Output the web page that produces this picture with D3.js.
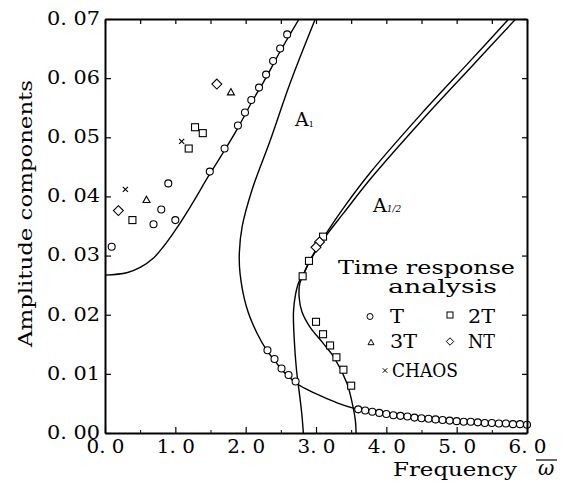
<!DOCTYPE html>
<html><head><meta charset="utf-8">
<script src="https://cdn.jsdelivr.net/npm/d3@7"></script>
<style>
body{margin:0;background:#fff}
svg{display:block}
text{font-family:"DejaVu Serif","Liberation Serif",serif;fill:#000}
</style>
</head><body>
<svg id="c" width="567" height="483"></svg>
<script>
// ---- axis ticks ----
const xTickValues = [0, 1, 2, 3, 4, 5, 6];
const xTickLabels = ["0. 0", "1. 0", "2. 0", "3. 0", "4. 0", "5. 0", "6. 0"];
const xMinorValues = [0.5, 1.5, 2.5, 3.5, 4.5, 5.5];
const yTickValues = [0, 0.01, 0.02, 0.03, 0.04, 0.05, 0.06, 0.07];
const yTickLabels = ["0. 00", "0. 01", "0. 02", "0. 03", "0. 04", "0. 05", "0. 06", "0. 07"];

// ---- analytic curves (frequency, amplitude) ----
const upperW = [0, 0.31, 0.50, 0.69, 0.83, 1.0, 1.2, 1.49, 1.70, 1.89, 2.08, 2.29, 2.49, 2.76];
const upperA = [0.0267, 0.0271, 0.0280, 0.0296, 0.0315, 0.0343, 0.0380, 0.0438, 0.0478, 0.0516, 0.0558, 0.0601, 0.0645, 0.0700];

const a1W = [2.99, 2.63, 2.35, 2.09, 1.95, 1.91, 1.92, 2.01, 2.16, 2.31, 2.41, 2.51, 2.61, 2.71, 2.85, 3.10, 3.30, 3.53, 3.80, 4.20, 4.60, 5.00, 5.50, 6.00];
const a1A = [0.0700, 0.0591, 0.0495, 0.0411, 0.0349, 0.0305, 0.0270, 0.0214, 0.0169, 0.0138, 0.0123, 0.0107, 0.0096, 0.0085, 0.0075, 0.0061, 0.0051, 0.0042, 0.0035, 0.0028, 0.0023, 0.0019, 0.0016, 0.0013];

const halfLeftW = [2.82, 2.80, 2.77, 2.72, 2.69, 2.68, 2.71, 2.76, 2.81, 2.90, 3.00, 3.12, 3.40, 3.77, 4.50, 5.20, 5.74];
const halfLeftA = [0.0000, 0.0030, 0.0061, 0.0110, 0.0160, 0.0205, 0.0235, 0.0256, 0.0265, 0.0289, 0.0310, 0.0333, 0.0382, 0.0440, 0.0540, 0.0630, 0.0700];

const halfRightW = [3.57, 3.56, 3.53, 3.44, 3.25, 3.10, 2.91, 2.80, 2.76, 2.77, 2.81, 2.90, 3.00, 3.12, 3.40, 3.77, 4.50, 5.20, 5.84];
const halfRightA = [0.0000, 0.0021, 0.0042, 0.0084, 0.0129, 0.0152, 0.0180, 0.0205, 0.0230, 0.0253, 0.0265, 0.0288, 0.0308, 0.0330, 0.0373, 0.0429, 0.0528, 0.0618, 0.0700];

// ---- time response analysis points ----
const tW = [0.095, 0.69, 0.80, 0.90, 1.00, 1.49, 1.70, 1.89, 1.99, 2.08, 2.19, 2.29, 2.39, 2.49, 2.59,
            2.31, 2.41, 2.51, 2.61, 2.71,
            3.6, 3.7, 3.8, 3.9, 4.0, 4.1, 4.2, 4.3, 4.4, 4.5, 4.6, 4.7, 4.8, 4.9, 5.0, 5.1, 5.2, 5.3, 5.4, 5.5, 5.6, 5.7, 5.8, 5.9, 6.0];
const tA = [0.0315, 0.0353, 0.0378, 0.0422, 0.0360, 0.0442, 0.0481, 0.0520, 0.0542, 0.0563, 0.0584, 0.0606, 0.0629, 0.0650, 0.0674,
            0.0140, 0.0125, 0.0109, 0.0098, 0.0087,
            0.0040, 0.0038, 0.0036, 0.0034, 0.0032, 0.0030, 0.0029, 0.0028, 0.0026, 0.0025, 0.0024, 0.0023, 0.0022, 0.0021, 0.0020, 0.0019, 0.0019, 0.0018, 0.0017, 0.0017, 0.0016, 0.0016, 0.0015, 0.0015, 0.0014];
const t2W = [0.39, 1.19, 1.28, 1.39, 2.81, 2.90, 3.10, 3.00, 3.10, 3.20, 3.29, 3.39, 3.50];
const t2A = [0.0360, 0.0481, 0.0517, 0.0507, 0.0265, 0.0291, 0.0332, 0.0188, 0.0167, 0.0148, 0.0128, 0.0107, 0.0080];
const t3W = [0.59, 1.79];
const t3A = [0.0395, 0.0577];
const ntW = [0.19, 1.59, 3.05, 3.00];
const ntA = [0.0376, 0.0590, 0.0323, 0.0314];
const chaosW = [0.29, 1.09];
const chaosA = [0.0412, 0.0493];

const legendItems = [
  {shape: "circle", label: "T"}, {shape: "square", label: "2T"},
  {shape: "triangle", label: "3T"}, {shape: "diamond", label: "NT"},
  {shape: "cross", label: "CHAOS"}
];

// ---- drawing ----
const FONT = '"DejaVu Serif","Liberation Serif",serif';
const svg = d3.select("#c");
const L = 105, R = 527, T = 19, B = 433;
const x = d3.scaleLinear().domain([0, 6]).range([L, R]);
const y = d3.scaleLinear().domain([0, 0.07]).range([B, T]);

svg.append("defs").append("clipPath").attr("id", "plot")
  .append("rect").attr("x", L).attr("y", T).attr("width", R - L).attr("height", B - T);

const zip = (ws, as) => ws.map((w, i) => [w, as[i]]);
const line = d3.line().x(d => x(d[0])).y(d => y(d[1])).curve(d3.curveCatmullRom.alpha(0.5));

const curves = svg.append("g").attr("clip-path", "url(#plot)")
  .attr("fill", "none").attr("stroke", "#000").attr("stroke-width", 1.4);
[[upperW, upperA], [a1W, a1A], [halfLeftW, halfLeftA], [halfRightW, halfRightA]].forEach(([w, a]) => {
  curves.append("path").attr("d", line(zip(w, a)));
});

// marker symbols
function drawMarker(g, shape, cx, cy, s) {
  if (shape === "circle") {
    g.append("circle").attr("cx", cx).attr("cy", cy).attr("r", s / 2);
  } else if (shape === "square") {
    g.append("rect").attr("x", cx - s / 2).attr("y", cy - s / 2).attr("width", s).attr("height", s);
  } else if (shape === "triangle") {
    const h = s * 0.9;
    g.append("path").attr("d", `M${cx},${cy - h / 2}L${cx + s / 2},${cy + h / 2}L${cx - s / 2},${cy + h / 2}Z`);
  } else if (shape === "diamond") {
    const r = s * 0.62;
    g.append("path").attr("d", `M${cx},${cy - r}L${cx + r},${cy}L${cx},${cy + r}L${cx - r},${cy}Z`);
  } else if (shape === "cross") {
    const r = s * 0.32;
    g.append("path").attr("d", `M${cx - r},${cy - r}L${cx + r},${cy + r}M${cx - r},${cy + r}L${cx + r},${cy - r}`);
  }
}
const marks = svg.append("g").attr("fill", "#fff").attr("stroke", "#000").attr("stroke-width", 1.1);
[["circle", tW, tA, 7], ["square", t2W, t2A, 7], ["triangle", t3W, t3A, 7],
 ["diamond", ntW, ntA, 8], ["cross", chaosW, chaosA, 8]].forEach(([shape, ws, as, s]) => {
  ws.forEach((w, i) => drawMarker(marks, shape, x(w), y(as[i]), s));
});

// axes
const axisStyle = g => {
  g.select(".domain").attr("stroke-width", 2);
  g.selectAll(".tick line").attr("stroke-width", 1.2);
  g.selectAll("text").attr("font-family", FONT).attr("font-size", 19);
};
svg.append("g").attr("transform", `translate(0,${B})`)
  .call(d3.axisBottom(x).tickValues(xTickValues).tickSizeInner(-6).tickSizeOuter(0).tickPadding(7)
    .tickFormat((d, i) => xTickLabels[i]))
  .call(axisStyle)
  .call(g => g.selectAll("text").attr("textLength", 38).attr("lengthAdjust", "spacingAndGlyphs"));
svg.append("g").attr("transform", `translate(0,${B})`)
  .call(d3.axisBottom(x).tickValues(xMinorValues).tickSizeInner(-3).tickSizeOuter(0).tickFormat(""))
  .call(g => g.select(".domain").remove());
svg.append("g").attr("transform", `translate(${L},0)`)
  .call(d3.axisLeft(y).tickValues(yTickValues).tickSizeInner(-6).tickSizeOuter(0).tickPadding(5)
    .tickFormat((d, i) => yTickLabels[i]))
  .call(axisStyle)
  .call(g => g.selectAll("text").attr("textLength", 53).attr("lengthAdjust", "spacingAndGlyphs").attr("dy", "0.28em"));
svg.append("g").attr("transform", `translate(0,${T})`)
  .call(d3.axisTop(x).tickValues(xTickValues.concat(xMinorValues)).tickSizeInner(-5).tickSizeOuter(0).tickFormat(""))
  .call(axisStyle);
svg.append("g").attr("transform", `translate(${R},0)`)
  .call(d3.axisRight(y).tickValues(yTickValues).tickSizeInner(-5).tickSizeOuter(0).tickFormat(""))
  .call(axisStyle);

// axis titles
svg.append("text").attr("transform", "translate(32,213.5) rotate(-90)")
  .attr("text-anchor", "middle").attr("font-size", 19)
  .attr("textLength", 267).attr("lengthAdjust", "spacingAndGlyphs").text("Amplitude components");
svg.append("text").attr("x", 393).attr("y", 476).attr("font-size", 19)
  .attr("textLength", 124).attr("lengthAdjust", "spacingAndGlyphs").text("Frequency");
svg.append("text").attr("x", 538).attr("y", 475).attr("font-size", 20).attr("font-style", "italic").text("ω");
svg.append("line").attr("x1", 536).attr("x2", 557).attr("y1", 460).attr("y2", 460)
  .attr("stroke", "#000").attr("stroke-width", 1.2);

// curve labels
const lab1 = svg.append("text").attr("x", x(2.70)).attr("y", y(0.0519)).attr("font-size", 19);
lab1.append("tspan").text("A");
lab1.append("tspan").attr("font-size", 8).attr("dy", 1).text("1");
const lab2 = svg.append("text").attr("x", x(3.81)).attr("y", y(0.0373)).attr("font-size", 19);
lab2.append("tspan").text("A");
lab2.append("tspan").attr("font-size", 9).attr("font-style", "italic").attr("dy", 0).text("1/2");

// legend
svg.append("text").attr("x", 338).attr("y", 274).attr("font-size", 18)
  .attr("textLength", 177).attr("lengthAdjust", "spacingAndGlyphs").text("Time response");
svg.append("text").attr("x", 388).attr("y", 293).attr("font-size", 18)
  .attr("textLength", 109).attr("lengthAdjust", "spacingAndGlyphs").text("analysis");
const legPos = [
  {mx: 370, my: 316.5, tx: 390, ty: 323, tl: 14},
  {mx: 450, my: 315, tx: 468, ty: 323, tl: 27},
  {mx: 371, my: 342, tx: 390, ty: 348, tl: 27},
  {mx: 450, my: 341.5, tx: 468, ty: 348, tl: 27},
  {mx: 385, my: 370.5, tx: 392, ty: 377, tl: 66}
];
const legG = svg.append("g");
const legMarks = legG.append("g").attr("fill", "#fff").attr("stroke", "#000").attr("stroke-width", 1);
legendItems.forEach((it, i) => {
  const p = legPos[i];
  drawMarker(legMarks, it.shape, p.mx, p.my, it.shape === "cross" ? 7 : 6);
  legG.append("text").attr("x", p.tx).attr("y", p.ty).attr("font-size", 19)
    .attr("textLength", p.tl).attr("lengthAdjust", "spacingAndGlyphs").text(it.label);
});
</script>
</body></html>
